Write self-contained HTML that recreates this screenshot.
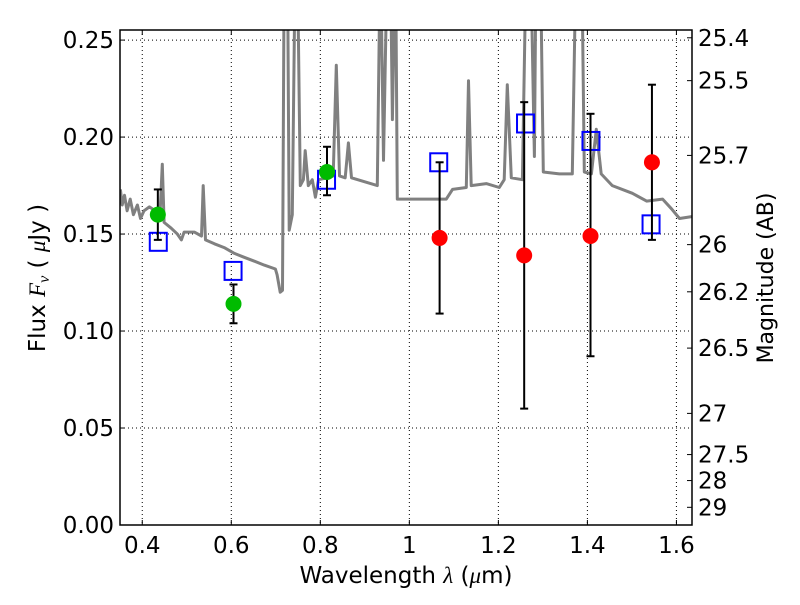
<!DOCTYPE html>
<html><head><meta charset="utf-8"><style>
body{margin:0;background:#fff}
svg text{font-family:"DejaVu Sans","Liberation Sans",sans-serif;fill:#000}
</style></head><body>
<svg id="chart" width="800" height="600" viewBox="0 0 800 600">
<defs><clipPath id="pc"><rect x="120" y="30" width="572" height="495"/></clipPath></defs>
<rect x="0" y="0" width="800" height="600" fill="#fff"/>
<g id="grid"></g>
<g id="spec" clip-path="url(#pc)"></g>
<g id="marks" clip-path="url(#pc)"></g>
<rect x="120" y="30" width="572" height="495" fill="none" stroke="#000" stroke-width="1.5"/>
<g id="axes"></g>
<text x="406" y="583" font-size="23" text-anchor="middle">Wavelength  <tspan font-style="italic" font-family="Liberation Serif">λ</tspan> (<tspan font-style="italic" font-family="Liberation Serif">μ</tspan>m)</text>
<text transform="translate(45,278) rotate(-90)" font-size="23" text-anchor="middle">Flux  <tspan font-style="italic" font-family="Liberation Serif">F</tspan><tspan font-style="italic" font-family="Liberation Serif" font-size="16" dy="4">ν</tspan><tspan dy="-4">  (  </tspan><tspan font-style="italic" font-family="Liberation Serif">μ</tspan>Jy )</text>
<text transform="translate(773,278) rotate(-90)" font-size="22" text-anchor="middle">Magnitude (AB)</text>
</svg>
<script>
const xTicks=[0.4,0.6,0.8,1.0,1.2,1.4,1.6];
const xTickLabels=["0.4","0.6","0.8","1","1.2","1.4","1.6"];
const yTicks=[0,0.05,0.10,0.15,0.20,0.25];
const yTickLabels=["0.00","0.05","0.10","0.15","0.20","0.25"];
const magTicks=[25.4,25.5,25.7,26,26.2,26.5,27,27.5,28,29];
const magTickLabels=["25.4","25.5","25.7","26","26.2","26.5","27","27.5","28","29"];
const specWave=[0.351,0.355,0.360,0.366,0.373,0.380,0.389,0.396,0.404,0.416,0.429,0.440,0.445,0.449,0.465,0.479,0.488,0.494,0.517,0.533,0.537,0.542,0.562,0.584,0.607,0.629,0.652,0.674,0.699,0.703,0.710,0.715,0.719,0.726,0.730,0.737,0.744,0.748,0.755,0.762,0.766,0.773,0.782,0.789,0.796,0.816,0.829,0.836,0.843,0.856,0.863,0.870,0.899,0.928,0.935,0.942,0.951,0.957,0.962,0.969,0.973,1.000,1.022,1.083,1.097,1.128,1.133,1.139,1.173,1.202,1.213,1.220,1.229,1.254,1.263,1.272,1.281,1.285,1.294,1.301,1.337,1.366,1.375,1.387,1.393,1.409,1.420,1.431,1.456,1.501,1.533,1.569,1.589,1.607,1.634];
const specFlux=[0.173,0.165,0.170,0.162,0.168,0.160,0.165,0.158,0.162,0.164,0.162,0.161,0.186,0.156,0.153,0.150,0.147,0.151,0.151,0.149,0.175,0.147,0.145,0.143,0.140,0.138,0.136,0.134,0.132,0.129,0.120,0.121,0.30,0.30,0.152,0.160,0.30,0.30,0.175,0.178,0.193,0.175,0.178,0.169,0.178,0.179,0.180,0.237,0.180,0.179,0.197,0.179,0.177,0.175,0.30,0.188,0.30,0.30,0.209,0.30,0.168,0.168,0.168,0.168,0.173,0.174,0.229,0.175,0.176,0.174,0.178,0.227,0.179,0.178,0.30,0.30,0.190,0.30,0.30,0.182,0.181,0.181,0.30,0.30,0.182,0.181,0.204,0.181,0.175,0.171,0.167,0.168,0.163,0.158,0.159];
const greenWave=[0.435,0.605,0.815];
const greenFlux=[0.160,0.114,0.182];
const greenLo=[0.147,0.104,0.170];
const greenHi=[0.173,0.124,0.195];
const redWave=[1.068,1.258,1.407,1.545];
const redFlux=[0.148,0.139,0.149,0.187];
const redLo=[0.109,0.060,0.087,0.147];
const redHi=[0.187,0.218,0.212,0.227];
const boxWave=[0.436,0.604,0.814,1.066,1.261,1.408,1.543];
const boxFlux=[0.146,0.131,0.178,0.187,0.207,0.198,0.155];

const X0=120,X1=692,Y0=525,Y1=30,xmin=0.35,xmax=1.635,ymin=0,ymax=0.2552;
const sx=v=>X0+(v-xmin)/(xmax-xmin)*(X1-X0);
const sy=v=>Y0-(v-ymin)/(ymax-ymin)*(Y0-Y1);
const magToFlux=m=>Math.pow(10,(23.9-m)/2.5);
const NS="http://www.w3.org/2000/svg";
function mk(tag,attrs,parent){const e=document.createElementNS(NS,tag);for(const k in attrs)e.setAttribute(k,attrs[k]);parent.appendChild(e);return e;}
const grid=document.getElementById('grid'),axes=document.getElementById('axes'),spec=document.getElementById('spec'),marks=document.getElementById('marks');

xTicks.forEach((t,i)=>{const x=sx(t);
 let g=mk('line',{x1:x,x2:x,y1:Y1,y2:Y0,stroke:'#000','stroke-width':1,'stroke-dasharray':'1,3'},grid);
 
 
 mk('line',{x1:x,x2:x,y1:Y0,y2:Y0-5,stroke:'#000'},axes);
 mk('line',{x1:x,x2:x,y1:Y1,y2:Y1+5,stroke:'#000'},axes);
 let tx=mk('text',{x:x,y:Y0+28,'font-size':23,'text-anchor':'middle'},axes);tx.textContent=xTickLabels[i];
 
 
});
yTicks.forEach((t,i)=>{const y=sy(t);
 let g=mk('line',{x1:X0,x2:X1,y1:y,y2:y,stroke:'#000','stroke-width':1,'stroke-dasharray':'1,3'},grid);
 
 
 mk('line',{x1:X0,x2:X0+5,y1:y,y2:y,stroke:'#000'},axes);
 let tx=mk('text',{x:X0-6,y:y+8,'font-size':23,'text-anchor':'end'},axes);tx.textContent=yTickLabels[i];
 
 
});
magTicks.forEach((m,i)=>{const y=sy(magToFlux(m));
 mk('line',{x1:X1-5,x2:X1,y1:y,y2:y,stroke:'#000'},axes);
 let tx=mk('text',{x:X1+6,y:y+8,'font-size':23},axes);tx.textContent=magTickLabels[i];
 
 
});
const pts=specWave.map((w,i)=>sx(w).toFixed(1)+','+sy(specFlux[i]).toFixed(1)).join(' ');
const pl=mk('polyline',{points:pts,fill:'none',stroke:'#808080','stroke-width':3,'stroke-linejoin':'round'},spec);



function errbar(x,lo,hi){const X=sx(x);
 mk('line',{x1:X,x2:X,y1:sy(lo),y2:sy(hi),stroke:'#000','stroke-width':2},marks);
 mk('line',{x1:X-4,x2:X+4,y1:sy(lo),y2:sy(lo),stroke:'#000','stroke-width':2},marks);
 mk('line',{x1:X-4,x2:X+4,y1:sy(hi),y2:sy(hi),stroke:'#000','stroke-width':2},marks);}
boxWave.forEach((w,i)=>{
 const r=mk('rect',{x:sx(w)-8.5,y:sy(boxFlux[i])-9,width:17,height:18,fill:'none',stroke:'#0000ff','stroke-width':2},marks);
 
 
});
greenWave.forEach((w,i)=>{errbar(w,greenLo[i],greenHi[i]);
 const c=mk('circle',{cx:sx(w),cy:sy(greenFlux[i]),r:8,fill:'#00bb00'},marks);
 
 
});
redWave.forEach((w,i)=>{errbar(w,redLo[i],redHi[i]);
 const c=mk('circle',{cx:sx(w),cy:sy(redFlux[i]),r:8,fill:'#ff0000'},marks);
 
 
});
</script>
</body></html>
